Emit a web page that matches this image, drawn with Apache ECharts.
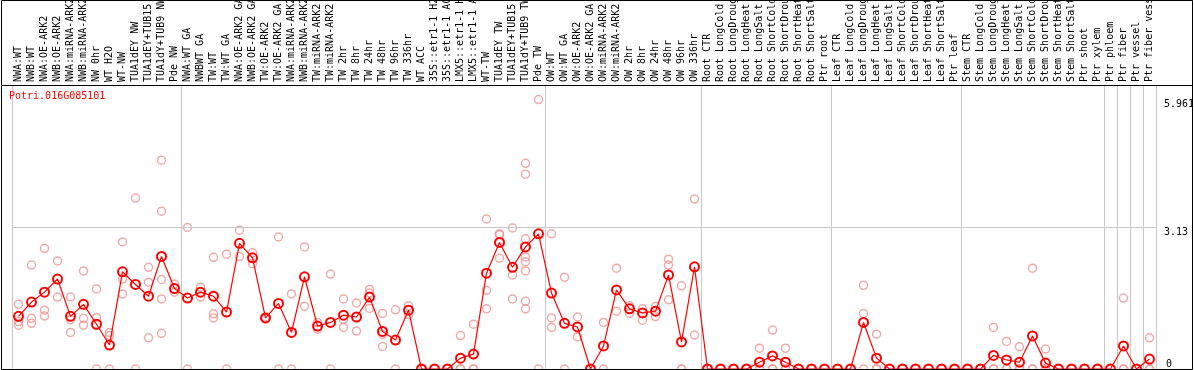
<!DOCTYPE html>
<html>
<head>
<meta charset="utf-8">
<script src="https://cdn.jsdelivr.net/npm/echarts@6.0.0/dist/echarts.min.js"></script>
<style>
  html, body { margin: 0; padding: 0; background: #fff; }
  #chart { width: 1194px; height: 370px; }
</style>
</head>
<body>
<div id="chart"></div>
<script>
const geneId = "Potri.016G085101";

const categories = [
  "NWA:WT", "NWB:WT", "NWA:OE-ARK2", "NWB:OE-ARK2", "NWA:miRNA-ARK2", "NWB:miRNA-ARK2",
  "NW 0hr", "WT H2O", "WT-NW", "TUA1dEY NW", "TUA1dEY+TUB15 NW", "TUA1dY+TUB9 NW", "Pde NW",
  "NWA:WT GA", "NWBWT GA", "TW:WT", "TW:WT GA", "NWA:OE-ARK2 GA", "NWB:OE-ARK2 GA",
  "TW:OE-ARK2", "TW:OE-ARK2 GA", "NWA:miRNA-ARK2", "NWB:miRNA-ARK2", "TW:miRNA-ARK2",
  "TW:miRNA-ARK2", "TW 2hr", "TW 8hr", "TW 24hr", "TW 48hr", "TW 96hr", "TW 336hr", "WT ACC",
  "35S::etr1-1 H2O", "35S::etr1-1 ACC", "LMX5::etr1-1 H2O", "LMX5::etr1-1 ACC", "WT-TW",
  "TUA1dEY TW", "TUA1dEY+TUB15 TW", "TUA1dY+TUB9 TW", "Pde TW",
  "OW:WT", "OW:WT GA", "OW:OE-ARK2", "OW:OE-ARK2 GA", "OW:miRNA-ARK2", "OW:miRNA-ARK2",
  "OW 2hr", "OW 8hr", "OW 24hr", "OW 48hr", "OW 96hr", "OW 336hr",
  "Root CTR", "Root LongCold", "Root LongDrought", "Root LongHeat", "Root LongSalt",
  "Root ShortCold", "Root ShortDrought", "Root ShortHeat", "Root ShortSalt", "Ptr root",
  "Leaf CTR", "Leaf LongCold", "Leaf LongDrought", "Leaf LongHeat", "Leaf LongSalt",
  "Leaf ShortCold", "Leaf ShortDrought", "Leaf ShortHeat", "Leaf ShortSalt", "Ptr leaf",
  "Stem CTR", "Stem LongCold", "Stem LongDrought", "Stem LongHeat", "Stem LongSalt",
  "Stem ShortCold", "Stem ShortDrought", "Stem ShortHeat", "Stem ShortSalt", "Ptr shoot",
  "Ptr xylem", "Ptr phloem", "Ptr fiber", "Ptr vessel", "Ptr fiber vessel"
];

// mean expression per sample
const meanValues = [
  1.165, 1.48, 1.70, 1.99, 1.165, 1.43, 0.99, 0.53, 2.15, 1.87, 1.61, 2.49, 1.78,
  1.57, 1.70, 1.61, 1.26, 2.78, 2.46, 1.13, 1.45, 0.81, 2.04, 0.95, 1.03, 1.19, 1.15,
  1.59, 0.83, 0.64, 1.30, 0, 0, 0, 0.24, 0.33, 2.12, 2.80, 2.25, 2.70, 2.99,
  1.68, 1.01, 0.93, 0, 0.51, 1.75, 1.33, 1.24, 1.28, 2.08, 0.60, 2.26,
  0, 0, 0, 0, 0.15, 0.29, 0.15, 0, 0, 0,
  0, 0, 1.03, 0.24, 0, 0, 0, 0, 0, 0,
  0, 0, 0.30, 0.20, 0.15, 0.73, 0.13, 0, 0, 0, 0,
  0, 0.51, 0, 0.22
];

// individual replicates per sample
const replicateValues = [
  [1.43, 1.05, 0.97], [2.30, 1.12, 1.01], [2.67, 1.30, 1.17], [2.39, 1.59], [1.59, 1.09, 0.81],
  [2.17, 1.12, 0.97], [1.77, 1.14, 0], [0.81, 0.74, 0], [2.81, 1.99, 1.66], [3.78, 0],
  [2.25, 1.92, 0.69], [4.62, 3.49, 1.98, 1.55, 0.79], [1.88, 1.70],
  [3.13, 0], [1.81, 1.59], [2.47, 1.22, 1.13], [2.54, 0], [3.07, 2.49], [2.57, 2.33],
  [1.15, 1.11], [2.92, 0], [1.66, 0], [2.70, 1.39], [1.03, 0.88], [2.10, 0],
  [1.55, 1.10, 0.92], [1.46, 0.84], [1.76, 1.68, 1.34], [1.23, 0.77, 0.50], [1.31, 0],
  [1.40, 1.20], [0], [0], [0], [0.74, 0, 0], [0.99, 0, 0], [3.32, 1.74, 1.33],
  [2.99, 2.97, 2.45], [3.12, 2.08, 1.55], [4.55, 4.31, 2.88, 2.48, 2.37, 2.17, 1.50, 1.33],
  [5.961, 0],
  [2.99, 1.13, 0.92], [2.03, 0], [1.15, 0.71], [0], [1.03, 0], [2.23, 1.28], [1.40, 1.23],
  [1.33, 1.08], [1.38, 1.16], [2.43, 2.30, 1.53], [1.84, 0, 0], [3.76, 0.75],
  [0], [0], [0], [0], [0.46, 0, 0], [0.86, 0, 0], [0.46, 0, 0], [0], [0], [0],
  [0], [0], [1.85, 1.23, 0], [0.77, 0, 0], [0], [0], [0], [0], [0], [0],
  [0], [0], [0.92, 0, 0], [0.61, 0, 0], [0.49, 0, 0], [2.23, 0, 0], [0.44, 0, 0],
  [0], [0], [0], [0],
  [0], [1.57, 0, 0], [0], [0.69, 0, 0]
];

// first sample of every group, where the grey separators go
const groupStarts = [0, 13, 41, 53, 63, 73, 84, 85, 86, 87];
const yTopLabels = [3.13, 5.961];
const yZeroLabel = [0];
const refLine = 3.13;

const mono = "DejaVu Sans Mono";
const isGroupStart = (idx) => groupStarts.indexOf(idx) !== -1;

const chart = echarts.init(document.getElementById("chart"));

const option = {
  animation: false,
  title: {
    text: geneId,
    left: 9,
    top: 91,
    padding: 0,
    textStyle: { color: "#ff0000", fontSize: 10, fontWeight: "normal", fontFamily: mono },
  },
  grid: { left: 12, right: 38, top: 86, bottom: 1, outerBoundsMode: "none", containLabel: false },
  xAxis: {
    type: "category",
    position: "top",
    data: categories,
    boundaryGap: true,
    axisLine: { show: false },
    axisTick: { show: true, length: 86, interval: isGroupStart, lineStyle: { color: "#c8c8c8" } },
    splitLine: { show: true, interval: isGroupStart, lineStyle: { color: "#c8c8c8" } },
    axisLabel: { interval: 0, rotate: 90, margin: 4, color: "#000", fontFamily: mono, fontSize: 10 },
  },
  yAxis: [
    {
      type: "value",
      position: "right",
      min: 0,
      max: 6.26,
      splitLine: { show: false },
      axisLine: { show: false },
      axisTick: { show: false },
      axisLabel: {
        customValues: yTopLabels,
        margin: 8,
        verticalAlign: "top",
        color: "#000",
        fontFamily: mono,
        fontSize: 10,
        formatter: (v) => String(v),
      },
    },
    {
      type: "value",
      position: "right",
      min: 0,
      max: 6.26,
      splitLine: { show: false },
      axisLine: { show: false },
      axisTick: { show: false },
      axisLabel: {
        customValues: yZeroLabel,
        margin: 10,
        verticalAlign: "bottom",
        color: "#000",
        fontFamily: mono,
        fontSize: 10,
        formatter: (v) => String(v),
      },
    },
  ],
  series: [
    {
      name: "replicates",
      type: "scatter",
      yAxisIndex: 0,
      z: 2,
      symbol: "circle",
      symbolSize: 8,
      itemStyle: { color: "rgba(0,0,0,0)", borderColor: "#ea9696", borderWidth: 1.5 },
      data: replicateValues.flatMap((reps, i) => reps.map((v) => [i, v])),
      markLine: {
        silent: true,
        symbol: ["none", "none"],
        label: { show: false },
        lineStyle: { color: "#c8c8c8", type: "solid", width: 1 },
        data: [{ yAxis: refLine }],
      },
    },
    {
      name: "mean",
      type: "line",
      yAxisIndex: 0,
      z: 3,
      data: meanValues,
      showAllSymbol: true,
      symbol: "circle",
      symbolSize: 9,
      lineStyle: { color: "#ff0000", width: 1.2 },
      itemStyle: { color: "rgba(0,0,0,0)", borderColor: "#ff0000", borderWidth: 2 },
    },
  ],
  graphic: [
    {
      type: "rect",
      silent: true,
      z: 100,
      shape: { x: 1.5, y: 0.5, width: 1191, height: 369 },
      style: { fill: "none", stroke: "#000", lineWidth: 1 },
    },
    {
      type: "line",
      silent: true,
      z: 100,
      shape: { x1: 1, y1: 85.5, x2: 1193, y2: 85.5 },
      style: { stroke: "#000", lineWidth: 1 },
    },
  ],
};

chart.setOption(option);
</script>
</body>
</html>
